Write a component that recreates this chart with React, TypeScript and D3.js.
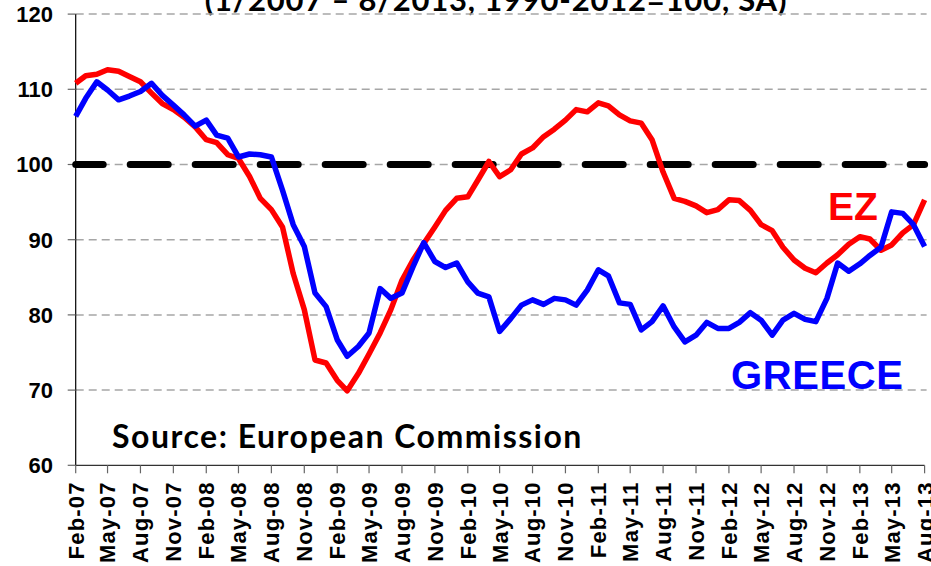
import React, { useEffect } from 'react';
import * as d3 from 'd3';

// Economic sentiment, monthly Feb-2007 .. Aug-2013
const startMonth = new Date(2007, 1, 1);
const endMonth = new Date(2013, 7, 1);

const ezValues = [
  110.8, 111.8, 112.0, 112.6, 112.4, 111.7, 111.0, 109.5, 108.1, 107.3,
  106.3, 105.0, 103.3, 102.9, 101.3, 100.8, 98.4, 95.5, 94.0, 91.7,
  85.5, 80.7, 74.0, 73.6, 71.3, 69.9, 72.2, 74.8, 77.6, 80.7,
  84.6, 87.3, 89.5, 91.7, 93.9, 95.5, 95.7, 97.9, 100.4, 98.4,
  99.3, 101.4, 102.2, 103.7, 104.7, 105.9, 107.3, 107.0, 108.2, 107.8,
  106.6, 105.8, 105.5, 103.3, 99.0, 95.5, 95.1, 94.5, 93.6, 94.0,
  95.3, 95.2, 93.9, 92.0, 91.2, 89.0, 87.3, 86.2, 85.6, 86.9,
  88.0, 89.4, 90.4, 90.1, 88.6, 89.3, 90.9, 92.0, 95.3,
];

const greeceValues = [
  106.4, 108.8, 111.0, 109.9, 108.6, 109.1, 109.7, 110.8, 109.2, 107.9,
  106.6, 105.1, 105.9, 103.9, 103.5, 101.0, 101.4, 101.3, 101.0, 96.6,
  92.0, 89.1, 82.9, 81.1, 76.7, 74.5, 75.8, 77.6, 83.5, 82.2,
  82.9, 86.4, 89.6, 87.1, 86.3, 86.9, 84.4, 82.9, 82.4, 77.8,
  79.5, 81.3, 82.0, 81.4, 82.2, 82.0, 81.3, 83.3, 86.0, 85.2,
  81.6, 81.4, 78.0, 79.1, 81.2, 78.4, 76.4, 77.3, 79.0, 78.2,
  78.2, 79.0, 80.3, 79.3, 77.3, 79.3, 80.2, 79.4, 79.1, 82.2,
  86.9, 85.8, 86.8, 87.9, 89.0, 93.7, 93.5, 92.0, 89.1,
];

const yTicks = [60, 70, 80, 90, 100, 110, 120];
const baseline = 100;

const tickLabels = [
  'Feb-07', 'May-07', 'Aug-07', 'Nov-07', 'Feb-08', 'May-08', 'Aug-08', 'Nov-08',
  'Feb-09', 'May-09', 'Aug-09', 'Nov-09', 'Feb-10', 'May-10', 'Aug-10', 'Nov-10',
  'Feb-11', 'May-11', 'Aug-11', 'Nov-11', 'Feb-12', 'May-12', 'Aug-12', 'Nov-12',
  'Feb-13', 'May-13', 'Aug-13',
];

const W = 931;
const H = 566;
const margin = { left: 75.7, right: 6.4, top: 14.1, bottom: 100.7 };

export default function App() {
  useEffect(() => {
    document.body.style.margin = '0';
  }, []);

  const months = d3.timeMonth.range(startMonth, d3.timeMonth.offset(endMonth, 1));
  const x = d3.scaleTime().domain([startMonth, endMonth]).range([margin.left, W - margin.right]);
  const y = d3.scaleLinear().domain([60, 120]).range([H - margin.bottom, margin.top]);

  const line = d3.line<number>()
    .x((_, i) => x(months[i]))
    .y(d => y(d));

  const tickMonths = months.filter((_, i) => i % 3 === 0);
  const bold = 'bold';

  return (
    <svg width={W} height={H} style={{ display: 'block', background: '#fff' }}>
      {/* title, cut off at the top */}
      <text x={496} y={11} textAnchor="middle" fontFamily="Lato" fontWeight={bold} fontSize={31}
        letterSpacing={0.8} fill="#000">
        (1/2007 – 8/2013, 1990-2012=100, SA)
      </text>

      {/* gridlines */}
      {yTicks.filter(t => t > 60).map(t => (
        <line key={t} x1={margin.left} x2={W - margin.right + 2} y1={y(t)} y2={y(t)}
          stroke="#a6a6a6" strokeWidth={1.5} strokeDasharray="8 5" />
      ))}

      {/* y axis */}
      <line x1={margin.left} x2={margin.left} y1={y(120)} y2={y(60)} stroke="#000" strokeWidth={1.2} />
      {yTicks.map(t => (
        <g key={t}>
          <line x1={margin.left - 8} x2={margin.left} y1={y(t)} y2={y(t)} stroke="#666" strokeWidth={1.2} />
          <text x={53} y={y(t)} dy="0.36em" textAnchor="end" fontFamily="Liberation Sans, Arial"
            fontWeight={bold} fontSize={22} fill="#000">{t}</text>
        </g>
      ))}

      {/* x axis */}
      <line x1={margin.left} x2={W - margin.right} y1={y(60)} y2={y(60)} stroke="#333" strokeWidth={1.2} />
      {tickMonths.map((m, i) => (
        <g key={i} transform={`translate(${x(m)},${y(60)})`}>
          <line y1={0} y2={8} stroke="#666" strokeWidth={1.2} />
          <text transform="translate(0,16) rotate(-90)" dy="0.36em" textAnchor="end"
            fontFamily="Liberation Sans, Arial" fontWeight={bold} fontSize={22} letterSpacing={1.2} fill="#000">
            {tickLabels[i]}
          </text>
        </g>
      ))}

      {/* 100 reference */}
      <line x1={margin.left} x2={W - margin.right} y1={y(baseline)} y2={y(baseline)}
        stroke="#000" strokeWidth={7} strokeDasharray="38 27" strokeDashoffset={10.5} strokeLinecap="round" />

      <path d={line(ezValues) || ''} fill="none" stroke="#ff0000" strokeWidth={5.5} strokeLinejoin="round" />
      <path d={line(greeceValues) || ''} fill="none" stroke="#0000ff" strokeWidth={5.5} strokeLinejoin="round" />

      <text x={828} y={220} fontFamily="Liberation Sans, Arial" fontWeight={bold} fontSize={39} fill="#ff0000">EZ</text>
      <text x={731} y={389} fontFamily="Liberation Sans, Arial" fontWeight={bold} fontSize={40}
        letterSpacing={0.6} fill="#0000ff">GREECE</text>
      <text x={112} y={448} fontFamily="Lato" fontWeight={bold} fontSize={32} letterSpacing={1.5}
        fill="#000">Source: European Commission</text>
    </svg>
  );
}
